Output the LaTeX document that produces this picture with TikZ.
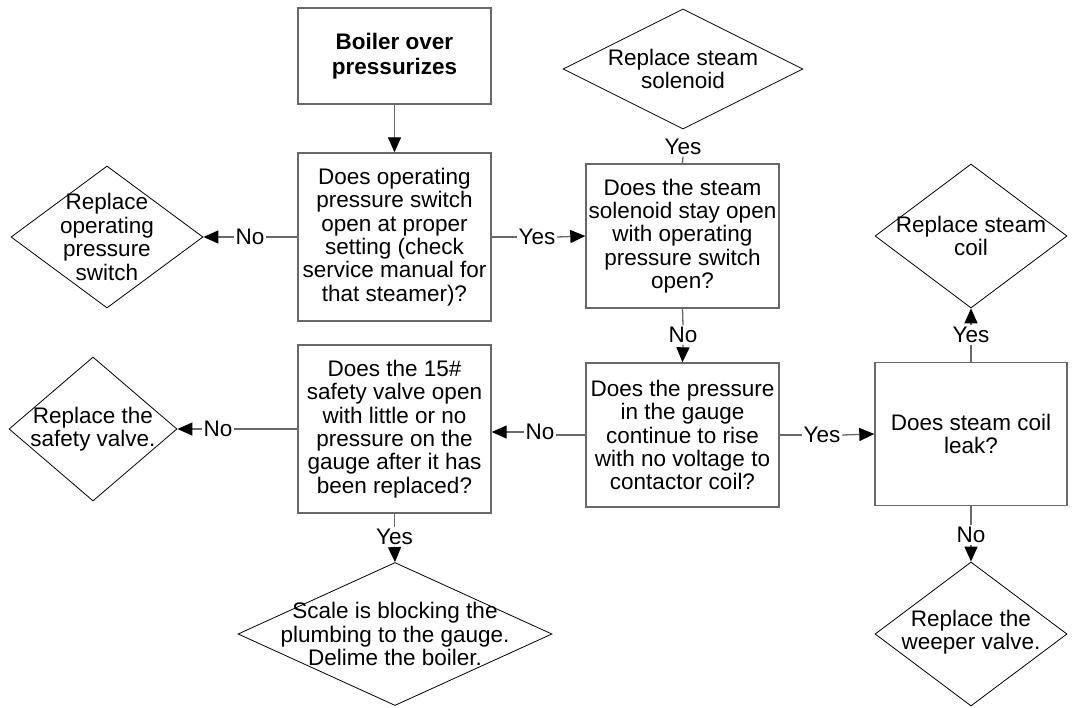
\documentclass[tikz,border=0pt]{standalone}
\usepackage{fontspec}
\setmainfont{Liberation Sans}
\usetikzlibrary{shapes.geometric,arrows.meta}
\definecolor{boxgray}{RGB}{105,105,105}
\begin{document}
\begin{tikzpicture}[x=1pt,y=-1pt,
  every node/.style={font=\fontsize{22.5}{23.4}\selectfont},
  qbox/.style={draw=boxgray,line width=1.4pt,rectangle,inner sep=0pt,align=center,fill=white},
  dia/.style={draw=black,line width=0.8pt,diamond,inner sep=0pt},
  txt/.style={align=center,inner sep=0pt},
  lab/.style={inner sep=1.5pt,fill=white},
  conn/.style={draw=boxgray,line width=1.3pt},
  arr/.style={conn,-{Triangle[length=15pt,width=13pt,color=black]}}
]
\useasboundingbox (0,0) rectangle (1073,707);

% boxes
\node[qbox,minimum width=193pt,minimum height=96pt,font=\fontsize{22.5}{25}\selectfont\bfseries] (b1) at (394.5,56) {Boiler over\\pressurizes};
\node[qbox,minimum width=193pt,minimum height=168pt] (b2) at (394.5,237) {Does operating\\pressure switch\\open at proper\\setting (check\\service manual for\\that steamer)?};
\node[qbox,minimum width=193pt,minimum height=144pt] (b3) at (682.5,236) {Does the steam\\solenoid stay open\\with operating\\pressure switch\\open?};
\node[qbox,minimum width=193pt,minimum height=144pt] (b4) at (682.5,435) {Does the pressure\\in the gauge\\continue to rise\\with no voltage to\\contactor coil?};
\node[qbox,minimum width=192pt,minimum height=143pt] (b5) at (971,434) {Does steam coil\\leak?};
\node[qbox,minimum width=193pt,minimum height=168pt] (b6) at (394.5,429) {Does the 15\#\\safety valve open\\with little or no\\pressure on the\\gauge after it has\\been replaced?};

% diamonds
\node[dia,minimum width=192pt,minimum height=142pt] (d1) at (107,237) {};
\node[txt] (t1) at (d1.center) {Replace\\operating\\pressure\\switch};
\node[dia,minimum width=240pt,minimum height=120pt] (d2) at (683,69) {};
\node[txt] (t2) at (d2.center) {Replace steam\\solenoid};
\node[dia,minimum width=192pt,minimum height=144pt] (d3) at (971,236) {};
\node[txt] (t3) at (d3.center) {Replace steam\\coil};
\node[dia,minimum width=192pt,minimum height=144pt] (d4) at (971,634) {};
\node[txt] (t4) at ([yshift=2pt]d4.center) {Replace the\\weeper valve.};
\node[dia,minimum width=168pt,minimum height=144pt] (d5) at (93,429) {};
\node[txt] (t5) at (d5.center) {Replace the\\safety valve.};
\node[dia,minimum width=314pt,minimum height=143pt] (d6) at (395,634) {};
\node[txt] (t6) at (d6.center) {Scale is blocking the\\plumbing to the gauge.\\Delime the boiler.};

% labels
\node[lab] (l1) at (250,237) {No};
\node[lab] (l2) at (537,237) {Yes};
\node[lab] (l3) at (683,147) {Yes};
\node[lab] (l4) at (683,335) {No};
\node[lab] (l5) at (822,435) {Yes};
\node[lab] (l6) at (971,335) {Yes};
\node[lab] (l7) at (971,535) {No};
\node[lab] (l8) at (540,432) {No};
\node[lab] (l9) at (218,429) {No};
\node[lab] (l10) at (394.5,537) {Yes};

% connectors
\draw[arr] (b1.south) -- (b2.north);
\draw[conn] (b2.west) -- (l1.east);
\draw[arr] (l1.west) -- (d1.east);
\draw[conn] (b2.east) -- (l2.west);
\draw[arr] (l2.east) -- (b3.west);
\draw[conn] (b3.north) -- (l3.south);
\draw[conn] (b3.south) -- (l4.north);
\draw[arr] (l4.south) -- (b4.north);
\draw[conn] (b4.east) -- (l5.west);
\draw[arr] (l5.east) -- (b5.west);
\draw[conn] (b5.north) -- (l6.south);
\draw[arr] (l6.north) -- (d3.south);
\draw[conn] (b5.south) -- (l7.north);
\draw[arr] (l7.south) -- (d4.north);
\draw[conn] (b4.west) -- (l8.east |- b4.west);
\draw[arr] (l8.west) -- (b6.east |- l8.west);
\draw[conn] (b6.west) -- (l9.east);
\draw[arr] (l9.west) -- (d5.east);
\draw[conn] (b6.south) -- (l10.north);
\draw[arr] (l10.south) -- (d6.north);
\end{tikzpicture}
\end{document}
